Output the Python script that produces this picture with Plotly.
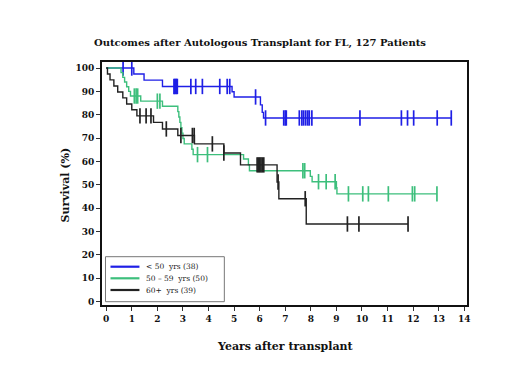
import numpy as np
import plotly.graph_objects as go

# ---------------- data ----------------
group_labels = ["&lt; 50  yrs (38)", "50 \u2013 59  yrs (50)", "60+  yrs (39)"]
group_colors = ["#1f1fe6", "#3dbf7c", "#222222"]

# < 50 yrs
blue_event_t = [0, 1.08, 1.48, 2.2, 4.92, 5.0, 6.03, 6.1, 6.15]
blue_event_s = [100, 97.4, 94.8, 92.1, 89.8, 87.6, 84.2, 81.0, 78.6]
blue_censor_t = [0.66, 1.0, 2.65, 2.68, 2.72, 2.75, 2.78, 3.31, 3.5, 3.76, 4.44,
                 4.73, 4.83, 5.84, 6.23, 6.94, 7.0, 7.04, 7.55, 7.65, 7.72, 7.8,
                 7.88, 7.94, 8.04, 9.92, 11.54, 11.78, 12.02, 12.94, 13.49]

# 50 - 59 yrs
green_event_t = [0, 0.58, 0.65, 0.72, 0.8, 0.88, 0.95, 1.35, 2.2, 2.8, 2.84, 2.88,
                 2.92, 2.96, 3.0, 3.05, 3.35, 3.4, 5.37, 5.56, 5.6, 7.98, 8.05,
                 9.0, 9.02]
green_event_s = [100, 98, 96, 94, 92, 90, 88, 85.8, 83.6, 81.3, 79, 76.7,
                 74.4, 72.1, 69.8, 67.5, 65.2, 62.9, 61.0, 58.5, 56.0, 53.6, 51.3,
                 48.7, 46.1]
green_censor_t = [1.1, 1.17, 1.23, 2.0, 2.1, 3.57, 3.96, 7.69, 7.76, 8.3, 8.6,
                  8.95, 9.47, 10.03, 10.25, 11.03, 11.97, 12.06, 12.93]

# 60+ yrs
black_event_t = [0, 0.05, 0.15, 0.3, 0.45, 0.65, 0.8, 1.0, 1.2, 1.85, 2.2, 2.8,
                 3.45, 4.6, 5.25, 6.68, 6.75, 7.82]
black_event_s = [100, 97.4, 94.9, 92.3, 89.7, 87.2, 84.6, 82.1, 79.5, 76.7, 73.9,
                 71.1, 67.5, 63.6, 58.5, 51.2, 44.0, 33.2]
black_censor_t = [1.32, 1.56, 1.75, 2.35, 2.92, 3.37, 3.44, 4.15, 4.6, 5.9, 5.95,
                  6.0, 6.05, 6.1, 6.16, 6.72, 7.78, 9.43, 9.88, 11.8]

x_ticks = list(range(0, 15))
y_ticks = list(range(0, 101, 10))

title_text = "Outcomes after Autologous Transplant for FL, 127 Patients"
x_title = "Years after transplant"
y_title = "Survival (%)"

# ---------------- figure ----------------
FONT = "DejaVu Serif"
fig = go.Figure()

groups = [
    (blue_event_t, blue_event_s, blue_censor_t),
    (green_event_t, green_event_s, green_censor_t),
    (black_event_t, black_event_s, black_censor_t),
]


def step_value(et, es, t):
    et = np.asarray(et)
    es = np.asarray(es)
    idx = np.searchsorted(et, t, side="right") - 1
    return es[idx]


for (et, es, ct), col, lab in zip(groups, group_colors, group_labels):
    t_end = max(max(ct), max(et))
    xs = list(et) + [t_end]
    ys = list(es) + [step_value(et, es, t_end)]
    fig.add_trace(go.Scatter(x=xs, y=ys, mode="lines", line_shape="hv",
                             line=dict(color=col, width=1.4), name=lab,
                             showlegend=False, hoverinfo="skip"))
    cy = [float(step_value(et, es, t)) for t in ct]
    fig.add_trace(go.Scatter(x=ct, y=cy, mode="markers",
                             marker=dict(symbol="line-ns", size=11,
                                         line=dict(color=col, width=1.7)),
                             showlegend=False, hoverinfo="skip"))

# The page puts the figure 8 px in from the top-left corner; the target
# positions below are page pixels, converted to figure pixels.
OFF = 8
W, H = 520 - OFF, 390 - OFF
L = 101.5 - OFF
T = 62 - OFF
R = W - (467 - OFF)
B = H - (305 - OFF)
pw, ph = W - L - R, H - T - B


def px_x(p):
    return (p - OFF - L) / pw


def px_y(p):
    return (H - B - (p - OFF)) / ph


# manual legend (compact, like the reference)
shapes = [dict(type="rect", xref="paper", yref="paper",
               x0=px_x(105), x1=px_x(224), y0=px_y(301.7), y1=px_y(256.7),
               line=dict(color="#777777", width=1), fillcolor="white", layer="above")]
annotations = []
rows = [266.7, 278.3, 290.0]
for lab, col, ry in zip(group_labels, group_colors, rows):
    shapes.append(dict(type="line", xref="paper", yref="paper",
                       x0=px_x(110), x1=px_x(139), y0=px_y(ry), y1=px_y(ry),
                       line=dict(color=col, width=2.2), layer="above"))
    annotations.append(dict(xref="paper", yref="paper", x=px_x(144), y=px_y(ry),
                            text=lab, showarrow=False, xanchor="left",
                            yanchor="middle",
                            font=dict(family=FONT, size=7.5, color="#222222")))

annotations.append(dict(xref="paper", yref="paper", x=px_x(285), y=px_y(347),
                        text="<b>" + x_title + "</b>", showarrow=False,
                        xanchor="center", yanchor="middle",
                        font=dict(family=FONT, size=11, color="#111111")))
annotations.append(dict(xref="paper", yref="paper", x=px_x(64), y=px_y(185),
                        text="<b>" + y_title + "</b>", showarrow=False,
                        textangle=-90, xanchor="center", yanchor="middle",
                        font=dict(family=FONT, size=11, color="#111111")))
annotations.append(dict(xref="paper", yref="paper", x=px_x(260), y=px_y(43),
                        text="<b>" + title_text + "</b>", showarrow=False,
                        xanchor="center", yanchor="middle",
                        font=dict(family=FONT, size=10, color="#111111")))

fig.update_layout(
    width=W, height=H,
    margin=dict(l=L, r=R, t=T, b=B),
    paper_bgcolor="white", plot_bgcolor="white",
    shapes=shapes, annotations=annotations,
    showlegend=False,
)

axis_common = dict(showgrid=False, zeroline=False, showline=True, mirror=True,
                   linecolor="#111111", linewidth=2, ticks="outside", ticklen=4,
                   tickwidth=1, tickcolor="#333333",
                   tickfont=dict(family=FONT, size=9, color="#111111", weight="bold"))

fig.update_xaxes(range=[-0.164, 14.105], tickvals=x_ticks, ticktext=[str(v) for v in x_ticks],
                 **axis_common)
fig.update_yaxes(range=[-1.5, 102.57], tickvals=y_ticks, ticktext=[str(v) for v in y_ticks],
                 **axis_common)

fig.write_html("out.html")
